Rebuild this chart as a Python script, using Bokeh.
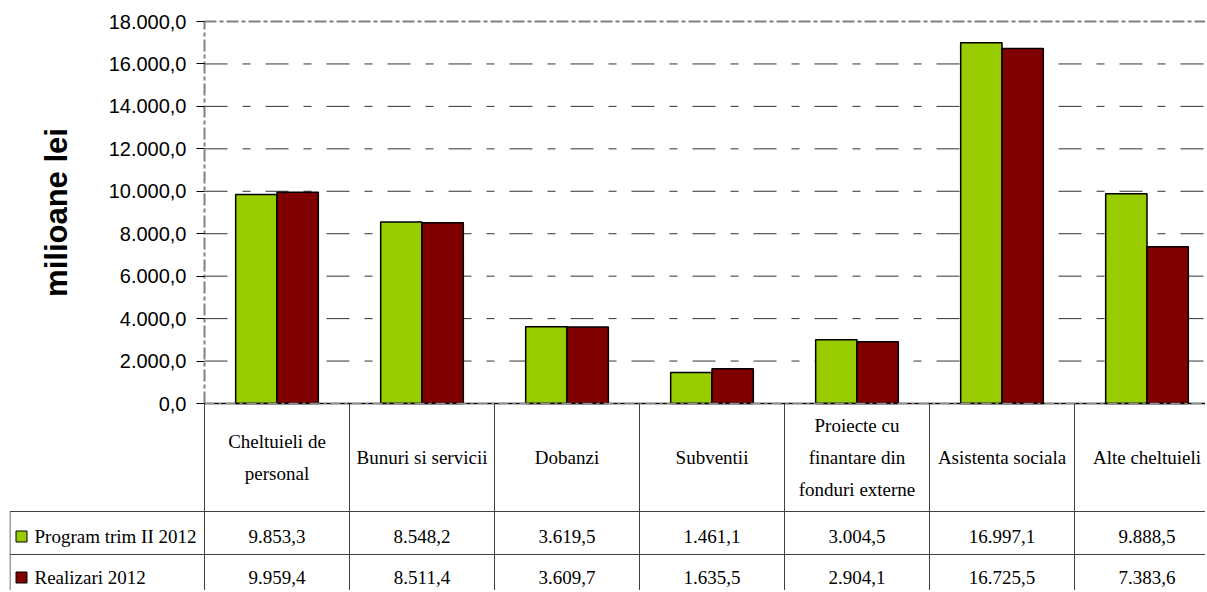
from bokeh.plotting import figure
from bokeh.models import Range1d, FixedTicker, LinearAxis
from bokeh.transform import dodge
from bokeh.models import ColumnDataSource
from bokeh.embed import file_html
from bokeh.resources import INLINE
from bokeh.core.properties import value

# ---------------- data ----------------
categories = ["Cheltuieli de\npersonal", "Bunuri si servicii", "Dobanzi", "Subventii",
              "Proiecte cu\nfinantare din\nfonduri externe", "Asistenta sociala",
              "Alte cheltuieli"]
program = [9853.3, 8548.2, 3619.5, 1461.1, 3004.5, 16997.1, 9888.5]
realizari = [9959.4, 8511.4, 3609.7, 1635.5, 2904.1, 16725.5, 7383.6]
series_names = ["Program trim II 2012", "Realizari 2012"]
series_colors = ["#99CC00", "#800000"]
y_ticks = [0, 2000, 4000, 6000, 8000, 10000, 12000, 14000, 16000, 18000]
y_tick_labels = ["0,0", "2.000,0", "4.000,0", "6.000,0", "8.000,0", "10.000,0",
                 "12.000,0", "14.000,0", "16.000,0", "18.000,0"]
y_label = "milioane lei"


def ro(v):
    s = f"{v:,.1f}"
    return s.replace(",", "X").replace(".", ",").replace("X", ".")


n = len(categories)
xs = [i + 0.5 for i in range(n)]
YMAX = y_ticks[-1]

# ---------------- geometry (pixels) ----------------
OFF = 1                 # page offset
W, H = 1205, 590
CAT_PX = 145.0          # px per category
X0_PX = 205             # x of the value axis
Y0_PX = 404             # y of value 0
YTOP_PX = 22            # y of value 18000
PX = YMAX / (Y0_PX - YTOP_PX)   # data units per px (vertical)

frame_left_px, frame_right_px = 10, OFF + W
frame_top_px, frame_bottom_px = OFF, OFF + H


def dx(px):
    return (px - X0_PX) / CAT_PX


def dy(py):
    return (Y0_PX - py) * PX


LEFT, RIGHT = dx(frame_left_px), dx(frame_right_px)

p = figure(width=W, height=H,
           x_range=Range1d(LEFT, RIGHT),
           y_range=Range1d(dy(frame_bottom_px), dy(frame_top_px)),
           output_backend="svg", toolbar_location=None,
           x_axis_location=None, y_axis_location=None,
           min_border_left=frame_left_px - OFF, min_border_right=0,
           min_border_top=frame_top_px - OFF, min_border_bottom=0)
p.outline_line_color = None
p.xgrid.visible = False
p.ygrid.visible = False

# value axis
ax = LinearAxis(fixed_location=0, bounds=(0, YMAX))
ax.ticker = FixedTicker(ticks=y_ticks)
ax.major_label_overrides = {t: l for t, l in zip(y_ticks, y_tick_labels)}
ax.axis_line_color = None
ax.major_tick_in = 0
ax.major_tick_out = 8
ax.major_tick_line_color = "black"
ax.minor_tick_line_color = None
ax.major_label_standoff = 10
ax.major_label_text_font = "Liberation Sans"
ax.major_label_text_font_size = "20px"
ax.major_label_text_color = "black"
ax.axis_label = y_label
ax.axis_label_text_font = "Liberation Sans"
ax.axis_label_text_font_style = "bold"
ax.axis_label_text_font_size = "31px"
ax.axis_label_text_color = "black"
ax.axis_label_standoff = 32
p.add_layout(ax, "left")

# grid lines (only across the chart part)
gt = y_ticks[1:-1]
p.segment(x0=[0] * len(gt), y0=gt, x1=[RIGHT] * len(gt), y1=gt,
          line_color="#333333", line_width=1, line_dash="23 15 8 15")

# bars
src = ColumnDataSource(dict(x=xs, program=program, realizari=realizari))
p.vbar(x=dodge("x", -0.1425), top="program", width=0.285, source=src,
       fill_color=series_colors[0], line_color="black", line_width=1.5)
p.vbar(x=dodge("x", 0.1425), top="realizari", width=0.285, source=src,
       fill_color=series_colors[1], line_color="black", line_width=1.5)

# chart borders
p.segment(x0=[0], y0=[0], x1=[RIGHT], y1=[0], line_color="black", line_width=1.5)
p.segment(x0=[0], y0=[0], x1=[RIGHT], y1=[0], line_color="#909090", line_width=1.5,
          line_dash="10 4 3 4")
p.segment(x0=[0, 0], y0=[YMAX, 0], x1=[RIGHT, 0], y1=[YMAX, YMAX],
          line_color="#808080", line_width=2, line_dash="12 3 4 3")

# ---------------- table ----------------
bottom = dy(frame_bottom_px)
row_line_1, row_line_2 = dy(512), dy(555)
row_y = [dy(537), dy(578)]
header_center = 458
line_step = 32

bounds = list(range(n))
p.segment(x0=bounds, y0=[0] * n, x1=bounds, y1=[bottom] * n,
          line_color="#404040", line_width=1)
lb = dx(10.5)
p.segment(x0=[lb, lb, lb], y0=[row_line_1, row_line_2, row_line_1],
          x1=[RIGHT, RIGHT, lb], y1=[row_line_1, row_line_2, bottom],
          line_color="#404040", line_width=1)

SERIF = value("Liberation Serif")
hx, hy, ht = [], [], []
for i, c in enumerate(categories):
    lines = c.split("\n")
    k = len(lines)
    for j, ln in enumerate(lines):
        hx.append(xs[i])
        hy.append(dy(header_center - (k - 1) / 2 * line_step + j * line_step))
        ht.append(ln)
p.text(x=hx, y=hy, text=ht, text_font=SERIF, text_font_size="19px", text_color="black",
       text_align="center", text_baseline="middle")

for vals, yy in zip([program, realizari], row_y):
    p.text(x=xs, y=[yy] * n, text=[ro(v) for v in vals], text_font=SERIF,
           text_font_size="19px", text_color="black", text_align="center",
           text_baseline="middle")

p.scatter(x=[dx(22)] * 2, y=row_y, marker="square", size=11,
          fill_color=series_colors, line_color="black", line_width=1)
p.text(x=[dx(35)] * 2, y=row_y, text=series_names, text_font=SERIF,
       text_font_size="19px", text_color="black", text_align="left", text_baseline="middle")

open("out.html", "w").write(file_html(p, INLINE))
